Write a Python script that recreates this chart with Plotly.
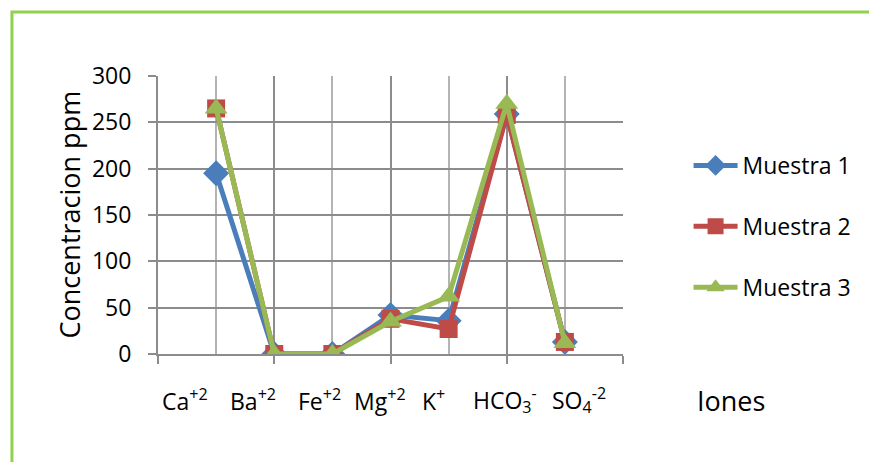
import plotly.graph_objects as go

# ---- data ----
ion_index = [1, 2, 3, 4, 5, 6, 7]
ion_labels = ["Ca<sup>+2</sup>", "Ba<sup>+2</sup>", "Fe<sup>+2</sup>", "Mg<sup>+2</sup>",
              "K<sup>+</sup>", "HCO<sub>3</sub><sup>-</sup>", "SO<sub>4</sub><sup>-2</sup>"]
muestra1 = [195, 0, 0, 42, 36, 259, 13]
muestra2 = [265, 0, 0, 38, 27, 258, 13]
muestra3 = [265, 0, 0, 35, 62, 270, 12]
series_names = ["Muestra 1", "Muestra 2", "Muestra 3"]
y_ticks = [0, 50, 100, 150, 200, 250, 300]

# ---- styles ----
FONT = "Open Sans"
colors = ["#4A7EBB", "#BE4B48", "#98B954"]
symbols = ["diamond", "square", "triangle-up"]
sizes = [20, 18, 20]
GRID = "#8c8c8c"
LIGHT = "#b4b4b4"

fig = go.Figure()
for i, (name, vals) in enumerate(zip(series_names, [muestra1, muestra2, muestra3])):
    fig.add_trace(go.Scatter(
        x=ion_index, y=vals, name=name, mode="lines+markers",
        line=dict(color=colors[i], width=5),
        marker=dict(symbol=symbols[i], size=sizes[i], color=colors[i], line=dict(width=0)),
        legendgroup=f"g{i}",
    ))

W, H = 869, 462
L, R, T, B = 158, 243, 76, 108
pw, ph = W - L - R, H - T - B

def px(xp):
    return (xp - L) / pw

def py(yp):
    return (H - B - yp) / ph

# x label text boxes (left edges in pixels)
label_left = [160, 228, 297, 353, 422, 473, 553]
annotations = []
for lbl, lx in zip(ion_labels, label_left):
    annotations.append(dict(
        text=lbl, x=px(lx), y=py(400), xref="paper", yref="paper",
        xanchor="left", yanchor="middle", showarrow=False,
        font=dict(family=FONT, size=23, color="#000000"),
    ))
annotations.append(dict(
    text="Iones", x=px(698), y=py(400), xref="paper", yref="paper",
    xanchor="left", yanchor="middle", showarrow=False,
    font=dict(family=FONT, size=27, color="#000000"),
))
annotations.append(dict(
    text="Concentracion ppm", x=px(68), y=py(215), xref="paper", yref="paper",
    xanchor="center", yanchor="middle", textangle=-90, showarrow=False,
    font=dict(family=FONT, size=27, color="#000000"),
))

fig.update_layout(
    width=W, height=H,
    margin=dict(l=L, r=R, t=T, b=B, pad=0),
    paper_bgcolor="white", plot_bgcolor="white",
    font=dict(family=FONT, size=23, color="#000000"),
    showlegend=True,
    legend=dict(
        x=px(692), y=py(144), xanchor="left", yanchor="top",
        font=dict(family=FONT, size=23, color="#000000"),
        tracegroupgap=28, bgcolor="rgba(0,0,0,0)", itemwidth=44,
    ),
    annotations=annotations,
    shapes=[dict(
        type="rect", xref="paper", yref="paper",
        x0=px(11), x1=px(900), y0=py(500), y1=py(12),
        line=dict(color="#92D050", width=3), layer="below",
    )],
)

fig.update_xaxes(
    range=[0, 8], tickvals=[0, 2, 4, 6, 8], showticklabels=False,
    showgrid=True, gridcolor=GRID, gridwidth=2,
    minor=dict(tickvals=[1, 3, 5, 7], showgrid=True, gridcolor=LIGHT, gridwidth=2, ticks=""),
    showline=True, linecolor=GRID, linewidth=2,
    ticks="outside", ticklen=8, tickcolor=GRID, tickwidth=2,
    zeroline=False, fixedrange=True,
)
fig.update_yaxes(
    range=[0, 300], tickvals=y_ticks,
    showgrid=True, gridcolor=GRID, gridwidth=2,
    showline=True, linecolor=GRID, linewidth=2,
    ticks="outside", ticklen=8, tickcolor=GRID, tickwidth=2,
    ticklabelstandoff=12,
    tickfont=dict(family=FONT, size=23, color="#000000"),
    zeroline=False, fixedrange=True,
)

fig.write_html("out.html")
